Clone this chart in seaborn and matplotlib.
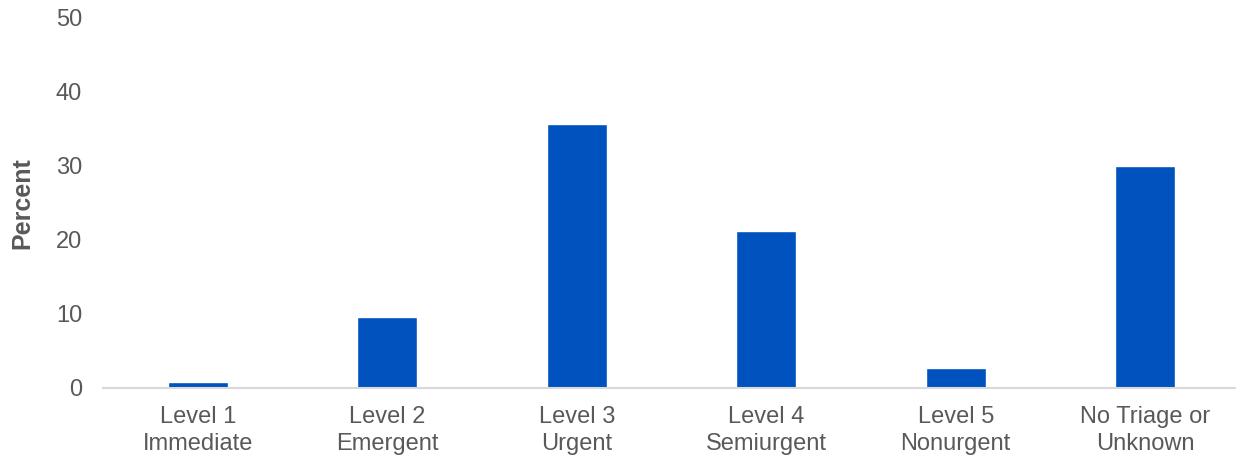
import matplotlib
matplotlib.use("Agg")
import matplotlib.pyplot as plt
import seaborn as sns
import pandas as pd
from matplotlib.ticker import FixedLocator, NullFormatter

categories = ["Level 1\nImmediate", "Level 2\nEmergent", "Level 3\nUrgent",
              "Level 4\nSemiurgent", "Level 5\nNonurgent", "No Triage or\nUnknown"]
percent = [0.8, 9.6, 35.6, 21.2, 2.6, 30.0]
yticks = [0, 10, 20, 30, 40, 50]

df = pd.DataFrame({"category": categories, "percent": percent})

sns.set_style("white")
plt.rcParams['font.family'] = ['Liberation Sans', 'DejaVu Sans']

fig = plt.figure(figsize=(12.36, 4.57), dpi=100)
ax = fig.add_axes([103 / 1236, 69.5 / 457, 1137 / 1236, 369.5 / 457])

sns.barplot(data=df, x="category", y="percent", color="#0052BF", saturation=1,
            width=0.315, ax=ax)

grey = "#595959"
ax.set_xlim(-0.5, 5.5)
ax.set_ylim(0, 50)
ax.set_yticks(yticks)
ax.set_xlabel("")
ax.set_ylabel("Percent", fontsize=18, fontweight="bold", color=grey)
ax.yaxis.set_label_coords(-0.060, 0.5)

for s in ["top", "right", "left"]:
    ax.spines[s].set_visible(False)
ax.spines["bottom"].set_color("#D9D9D9")
ax.spines["bottom"].set_linewidth(1.5)

ax.tick_params(axis="y", length=0, labelsize=17, labelcolor=grey, pad=15)
ax.tick_params(axis="x", which="major", length=0, labelsize=17, labelcolor=grey, pad=13)
ax.xaxis.set_minor_locator(FixedLocator([i - 0.5 for i in range(7)]))
ax.xaxis.set_minor_formatter(NullFormatter())
ax.tick_params(axis="x", which="minor", length=7, width=1.5, color="#D9D9D9")
for t in ax.get_xticklabels():
    t.set_linespacing(1.3)

fig.savefig("out.png", dpi=100)
